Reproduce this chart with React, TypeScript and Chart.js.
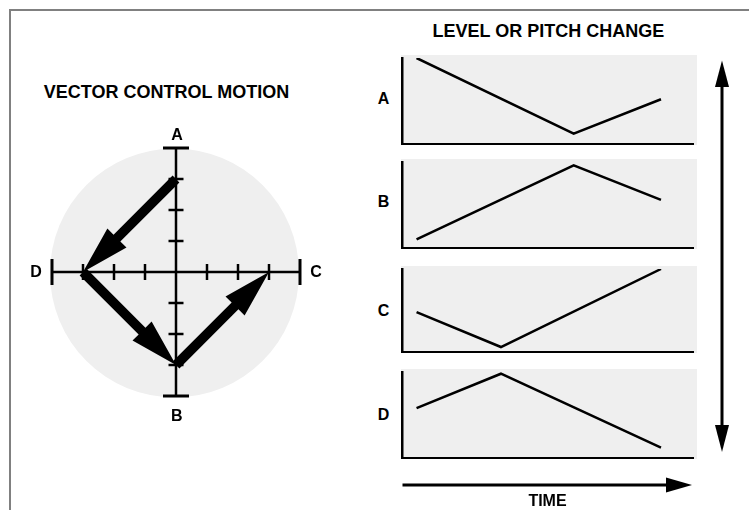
import React, { useEffect, useRef } from "react";
import { Chart, registerables } from "chart.js";

Chart.register(...registerables);

// ---------------- data ----------------
// Vector control motion path: A -> D -> B -> C (axis units)
const vectorPathX = [0, -3, 0, 3];
const vectorPathY = [3, 0, -3, 0];
const axisTickValues = [-3, -2, -1, 1, 2, 3];
const axisLimit = 4;

// Level or pitch change panels
const panelNames = ["A", "B", "C", "D"];
const timeA = [0.5, 5.9, 8.9];
const timeB = [0.5, 5.9, 8.9];
const timeC = [0.5, 3.4, 8.9];
const timeD = [0.5, 3.4, 8.9];
const levelA = [10, 1.2, 5.2];
const levelB = [1.0, 9.6, 5.6];
const levelC = [4.8, 0.6, 10];
const levelD = [5.8, 9.8, 1.2];

const panelTimes = [timeA, timeB, timeC, timeD];
const panelLevels = [levelA, levelB, levelC, levelD];

// ---------------- layout / style ----------------
const FONT = '"Liberation Sans", Arial, Helvetica, sans-serif';
const GRAY = "#efefef";
const panelBoxes = [
  { top: 55, height: 90 },
  { top: 159, height: 90 },
  { top: 266, height: 87 },
  { top: 369, height: 90 },
];

const circlePlugin = {
  id: "circleBg",
  beforeDatasetsDraw(chart: any) {
    const xs = chart.scales.x;
    const ys = chart.scales.y;
    const ctx = chart.ctx;
    const cx = xs.getPixelForValue(0);
    const cy = ys.getPixelForValue(0);
    const r = xs.getPixelForValue(axisLimit) - cx;
    ctx.save();
    ctx.fillStyle = GRAY;
    ctx.beginPath();
    ctx.arc(cx - 1.5, cy + 1, r + 0.5, 0, Math.PI * 2);
    ctx.fill();
    ctx.restore();
  },
};

const arrowPlugin = {
  id: "vectorArrows",
  afterDatasetsDraw(chart: any) {
    const ctx = chart.ctx;
    chart.data.datasets.forEach((ds: any, i: number) => {
      if (!ds.arrow) return;
      const pts = chart.getDatasetMeta(i).data;
      ctx.save();
      ctx.fillStyle = "#000";
      for (let k = 0; k < pts.length - 1; k++) {
        const p0 = pts[k];
        const p1 = pts[k + 1];
        const dx = p1.x - p0.x;
        const dy = p1.y - p0.y;
        const len = Math.hypot(dx, dy);
        const ux = dx / len;
        const uy = dy / len;
        const nx = -uy;
        const ny = ux;
        const L = 48;
        const H = 13.5;
        const w = 4.8;
        const bx = p1.x - ux * L;
        const by = p1.y - uy * L;
        ctx.beginPath();
        ctx.moveTo(p0.x + nx * w, p0.y + ny * w);
        ctx.lineTo(bx + nx * w, by + ny * w);
        ctx.lineTo(bx + nx * H, by + ny * H);
        ctx.lineTo(p1.x, p1.y);
        ctx.lineTo(bx - nx * H, by - ny * H);
        ctx.lineTo(bx - nx * w, by - ny * w);
        ctx.lineTo(p0.x - nx * w, p0.y - ny * w);
        ctx.closePath();
        ctx.fill();
      }
      ctx.restore();
    });
  },
};

function VectorChart() {
  const ref = useRef<HTMLCanvasElement | null>(null);
  useEffect(() => {
    if (!ref.current) return;
    const black = "#000";
    const chart = new Chart(ref.current, {
      type: "scatter",
      data: {
        datasets: [
          {
            label: "hAxis",
            data: [
              { x: -axisLimit, y: 0 },
              { x: axisLimit, y: 0 },
            ],
            showLine: true,
            borderColor: black,
            borderWidth: 2.5,
            pointRadius: 0,
          },
          {
            label: "vAxis",
            data: [
              { x: 0, y: -axisLimit },
              { x: 0, y: axisLimit },
            ],
            showLine: true,
            borderColor: black,
            borderWidth: 2.5,
            pointRadius: 0,
          },
          {
            label: "vTicks",
            data: axisTickValues.map((v) => ({ x: 0, y: v })),
            pointStyle: "line",
            pointRadius: 7.5,
            pointBorderWidth: 2.5,
            pointBorderColor: black,
            pointBackgroundColor: black,
            pointRotation: 0,
          },
          {
            label: "hTicks",
            data: axisTickValues.map((v) => ({ x: v, y: 0 })),
            pointStyle: "line",
            pointRadius: 8,
            pointBorderWidth: 2.5,
            pointBorderColor: black,
            pointBackgroundColor: black,
            pointRotation: 90,
          },
          {
            label: "vEnds",
            data: [
              { x: 0, y: axisLimit },
              { x: 0, y: -axisLimit },
            ],
            pointStyle: "line",
            pointRadius: 13,
            pointBorderWidth: 3,
            pointBorderColor: black,
            pointBackgroundColor: black,
            pointRotation: 0,
          },
          {
            label: "hEnds",
            data: [
              { x: -axisLimit, y: 0 },
              { x: axisLimit, y: 0 },
            ],
            pointStyle: "line",
            pointRadius: 13,
            pointBorderWidth: 3,
            pointBorderColor: black,
            pointBackgroundColor: black,
            pointRotation: 90,
          },
          {
            label: "motion",
            data: vectorPathX.map((x, i) => ({ x, y: vectorPathY[i] })),
            pointRadius: 0,
            showLine: false,
            arrow: true,
          } as any,
        ],
      },
      options: {
        animation: false,
        responsive: false,
        events: [],
        layout: { padding: 0, autoPadding: false },
        plugins: { legend: { display: false }, tooltip: { enabled: false } },
        scales: {
          x: { type: "linear", display: false, min: -5, max: 5 },
          y: { type: "linear", display: false, min: -5, max: 5 },
        },
      },
      plugins: [circlePlugin, arrowPlugin],
    });
    return () => chart.destroy();
  }, []);
  return (
    <canvas
      ref={ref}
      width={310}
      height={310}
      style={{ position: "absolute", left: 21, top: 117, width: 310, height: 310, display: "block" }}
    />
  );
}

function Panel({ idx }: { idx: number }) {
  const ref = useRef<HTMLCanvasElement | null>(null);
  const box = panelBoxes[idx];
  useEffect(() => {
    if (!ref.current) return;
    const times = panelTimes[idx];
    const levels = panelLevels[idx];
    const axisStyle = {
      type: "linear" as const,
      min: 0,
      max: 10,
      grid: { display: false, drawTicks: false },
      ticks: { display: false },
      border: { display: true, color: "#000", width: 2.5 },
    };
    const chart = new Chart(ref.current, {
      type: "line",
      data: {
        datasets: [
          {
            label: panelNames[idx],
            data: times.map((t, i) => ({ x: t, y: levels[i] })),
            borderColor: "#000",
            borderWidth: 2.5,
            pointRadius: 0,
            tension: 0,
            fill: false,
          },
        ],
      },
      options: {
        animation: false,
        responsive: false,
        events: [],
        layout: { padding: { left: 1, right: 4, top: 3, bottom: 1 }, autoPadding: false },
        plugins: { legend: { display: false }, tooltip: { enabled: false } },
        scales: {
          x: {
            ...axisStyle,
            afterFit: (s: any) => {
              s.height = 0;
            },
          },
          y: {
            ...axisStyle,
            afterFit: (s: any) => {
              s.width = 0;
            },
          },
        },
      },
    });
    return () => chart.destroy();
  }, [idx]);
  return (
    <canvas
      ref={ref}
      width={296}
      height={box.height}
      style={{
        position: "absolute",
        left: 401,
        top: box.top,
        width: 296,
        height: box.height,
        background: GRAY,
        display: "block",
      }}
    />
  );
}

function Label({ text, x, y, size }: { text: string; x: number; y: number; size: number }) {
  return (
    <div
      style={{
        position: "absolute",
        left: x,
        top: y,
        transform: "translate(-50%, -50%)",
        fontFamily: FONT,
        fontWeight: "bold",
        fontSize: size,
        lineHeight: 1,
        whiteSpace: "nowrap",
        color: "#000",
      }}
    >
      {text}
    </div>
  );
}

export default function App() {
  const panelLabelY = [99, 201.5, 311, 414.5];
  return (
    <div
      style={{
        position: "fixed",
        left: 0,
        top: 0,
        width: 749,
        height: 510,
        overflow: "hidden",
        background: "#fff",
      }}
    >
      <div
        style={{
          position: "absolute",
          left: 9,
          top: 9,
          width: 900,
          height: 700,
          borderTop: "2px solid #808080",
          borderLeft: "2px solid #808080",
        }}
      />
      <Label text="VECTOR CONTROL MOTION" x={166.5} y={92} size={18} />
      <Label text="LEVEL OR PITCH CHANGE" x={548.3} y={30.5} size={18} />
      <VectorChart />
      <Label text="A" x={177} y={135.3} size={16} />
      <Label text="B" x={176.7} y={416.3} size={16} />
      <Label text="C" x={316} y={272} size={16} />
      <Label text="D" x={36} y={272} size={16} />
      {panelNames.map((n, i) => (
        <Panel key={n} idx={i} />
      ))}
      {panelNames.map((n, i) => (
        <Label key={"l" + n} text={n} x={383.5} y={panelLabelY[i]} size={16} />
      ))}
      <svg
        width={749}
        height={510}
        style={{ position: "absolute", left: 0, top: 0, pointerEvents: "none" }}
      >
        <line x1={722} y1={84} x2={722} y2={428} stroke="#000" strokeWidth={3} />
        <polygon points="722,60.5 715,87 729,87" fill="#000" />
        <polygon points="722,452 715,425 729,425" fill="#000" />
        <line x1={402.5} y1={485} x2={668} y2={485} stroke="#000" strokeWidth={3} />
        <polygon points="692,485 666,477.5 666,492.5" fill="#000" />
      </svg>
      <Label text="TIME" x={547.5} y={501} size={16} />
    </div>
  );
}
